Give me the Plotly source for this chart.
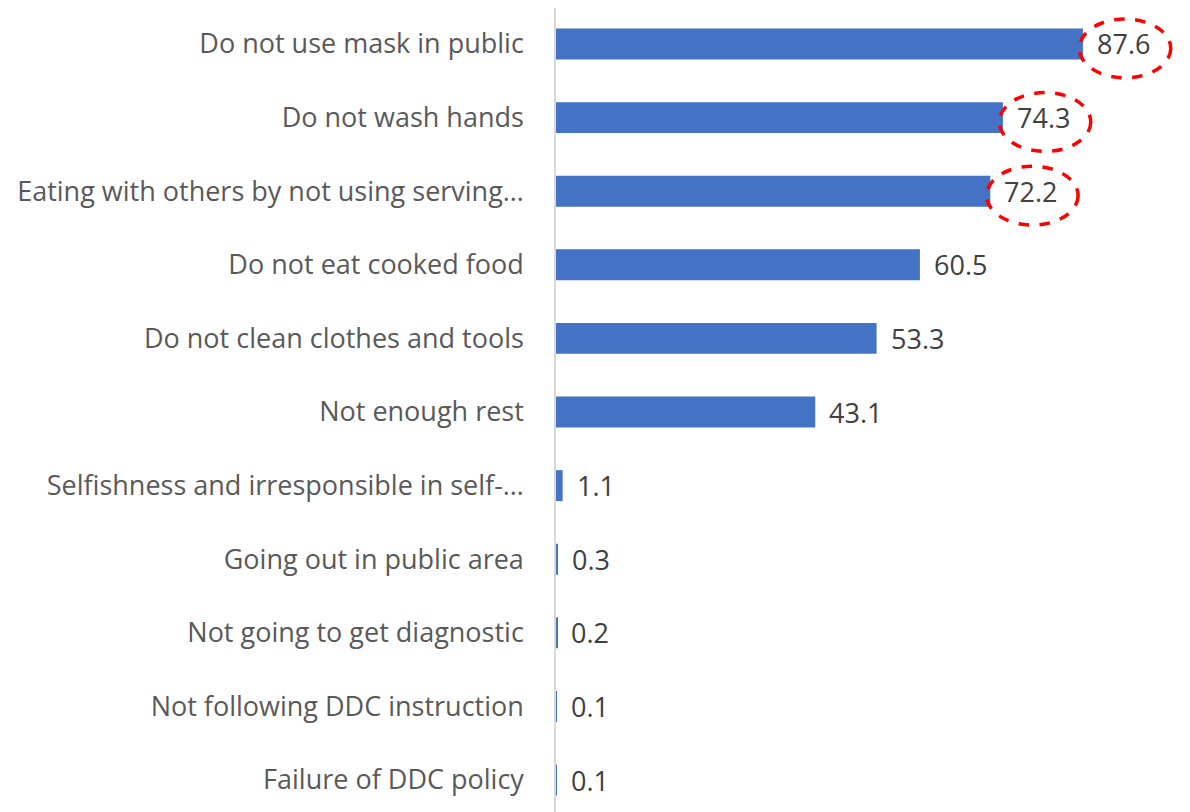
import plotly.graph_objects as go

categories = [
    "Do not use mask in public",
    "Do not wash hands",
    "Eating with others by not using serving…",
    "Do not eat cooked food",
    "Do not clean clothes and tools",
    "Not enough rest",
    "Selfishness and irresponsible in self-…",
    "Going out in public area",
    "Not going to get diagnostic",
    "Not following DDC instruction",
    "Failure of DDC policy",
]
values = [87.6, 74.3, 72.2, 60.5, 53.3, 43.1, 1.1, 0.3, 0.2, 0.1, 0.1]
highlighted = [0, 1, 2]

FONT = "'Open Sans', 'Noto Sans', sans-serif"

fig = go.Figure()
fig.add_trace(go.Bar(
    x=values, y=categories, orientation="h",
    marker=dict(color="#4472C4", line=dict(width=0)),
    width=0.42,
    hoverinfo="skip",
))

for c, v in zip(categories, values):
    fig.add_annotation(
        x=v, y=c, text=f"{v:.1f}", showarrow=False,
        xanchor="left", yanchor="middle", xshift=12, yshift=0,
        font=dict(family=FONT, size=27, color="#404040"),
    )

for i in highlighted:
    v = values[i]
    fig.add_shape(
        type="circle", xref="x", yref="y",
        x0=v - 0.6, x1=v + 14.6, y0=i - 0.34, y1=i + 0.46,
        line=dict(color="#FF0000", width=3.5, dash="dash"),
    )

fig.update_layout(
    width=1190, height=812,
    margin=dict(l=548, r=2, t=0, b=0),
    paper_bgcolor="white", plot_bgcolor="white",
    showlegend=False,
    xaxis=dict(range=[0, 106.4], visible=False, fixedrange=True),
    yaxis=dict(
        categoryorder="array", categoryarray=categories,
        range=[10.543, -0.489],
        showline=True, linecolor="#D9D9D9", linewidth=1.5,
        showgrid=False, zeroline=False, ticks="",
        ticklabelstandoff=25,
        tickfont=dict(family=FONT, size=27, color="#595959"),
    ),
)

fig.write_html("out.html")
